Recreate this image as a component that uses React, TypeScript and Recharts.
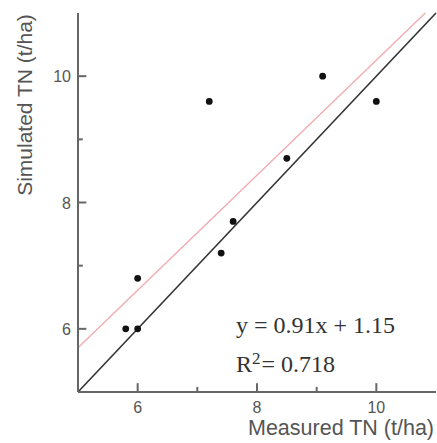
import { ScatterChart, Scatter, XAxis, YAxis, ReferenceLine } from "recharts";

// measured vs simulated total nitrogen (t/ha)
const measured = [5.8, 6.0, 6.0, 7.4, 7.6, 8.5, 7.2, 9.1, 10.0];
const simulated = [6.0, 6.0, 6.8, 7.2, 7.7, 8.7, 9.6, 10.0, 9.6];

const axisTicks = [6, 7, 8, 9, 10];
const labeledTicks = [6, 8, 10];
const axisDomain = [5, 11];

// 1:1 line and fitted line y = 0.91x + 1.15 (end points)
const oneToOne = [
  { x: 5, y: 5 },
  { x: 11, y: 11 },
];
const fitLine = [
  { x: 5, y: 5.7 },
  { x: 10.82, y: 11 },
];

const points = measured.map((m, i) => ({ x: m, y: simulated[i] }));

const AXIS = "#666";
const LABEL = "#555";
const axisLine = { stroke: AXIS, strokeWidth: 2 };

// inward tick marks, length in axis units
const tickLen = (v: number) => (labeledTicks.includes(v) ? 0.14 : 0.08);

function XTick({ x, y, payload }: any) {
  if (!labeledTicks.includes(payload.value)) return <g />;
  return (
    <text x={x} y={y + 21} textAnchor="middle" fontSize={16} fill={LABEL} fontFamily="Liberation Sans, Arial">
      {payload.value}
    </text>
  );
}

function YTick({ x, y, payload }: any) {
  if (!labeledTicks.includes(payload.value)) return <g />;
  return (
    <text x={x - 7} y={y + 6} textAnchor="end" fontSize={16} fill={LABEL} fontFamily="Liberation Sans, Arial">
      {payload.value}
    </text>
  );
}

function Dot({ cx, cy }: any) {
  return <circle cx={cx} cy={cy} r={3.4} fill="#111" />;
}

export default function App() {
  return (
    <div style={{ position: "absolute", left: 0, top: 0, width: 437, height: 443, background: "#fff" }}>
      <ScatterChart width={437} height={443} margin={{ top: 13, right: 1, bottom: 0, left: 0 }}>
        <XAxis
          type="number"
          dataKey="x"
          domain={axisDomain}
          ticks={axisTicks}
          height={51}
          tickSize={0}
          tickMargin={0}
          axisLine={axisLine}
          tickLine={false}
          tick={<XTick />}
        />
        <XAxis
          xAxisId="top"
          orientation="top"
          type="number"
          domain={axisDomain}
          height={0}
          tick={false}
          tickLine={false}
          axisLine={axisLine}
        />
        <YAxis
          type="number"
          dataKey="y"
          domain={axisDomain}
          ticks={axisTicks}
          width={78}
          tickSize={0}
          tickMargin={0}
          axisLine={axisLine}
          tickLine={false}
          tick={<YTick />}
        />
        <YAxis
          yAxisId="right"
          orientation="right"
          type="number"
          domain={axisDomain}
          width={0}
          tick={false}
          tickLine={false}
          axisLine={axisLine}
        />
        {axisTicks.map((t) => (
          <ReferenceLine
            key={`xt${t}`}
            segment={[
              { x: t, y: 5 },
              { x: t, y: 5 + tickLen(t) },
            ]}
            stroke={AXIS}
            strokeWidth={2}
          />
        ))}
        {axisTicks.map((t) => (
          <ReferenceLine
            key={`yt${t}`}
            segment={[
              { x: 5, y: t },
              { x: 5 + tickLen(t), y: t },
            ]}
            stroke={AXIS}
            strokeWidth={2}
          />
        ))}
        <ReferenceLine segment={fitLine} stroke="#f2a7ae" strokeWidth={1.2} />
        <ReferenceLine segment={oneToOne} stroke="#333" strokeWidth={1.6} />
        <Scatter data={points} shape={<Dot />} isAnimationActive={false} />
        <text
          x={32}
          y={105}
          transform="rotate(-90 32 105)"
          textAnchor="middle"
          fontSize={21}
          fill={LABEL}
          fontFamily="Liberation Sans, Arial"
        >
          Simulated TN (t/ha)
        </text>
        <text x={248} y={435} fontSize={21.5} fill={LABEL} fontFamily="Liberation Sans, Arial">
          Measured TN (t/ha)
        </text>
        <text x={236} y={333} fontSize={24} fill="#333" fontFamily="Liberation Serif, Times New Roman">
          y = 0.91x + 1.15
        </text>
        <text x={236} y={372} fontSize={24} fill="#333" fontFamily="Liberation Serif, Times New Roman">
          R
          <tspan fontSize={17} dy={-8}>
            2
          </tspan>
          <tspan dy={8} dx={1}>
            = 0.718
          </tspan>
        </text>
      </ScatterChart>
    </div>
  );
}
